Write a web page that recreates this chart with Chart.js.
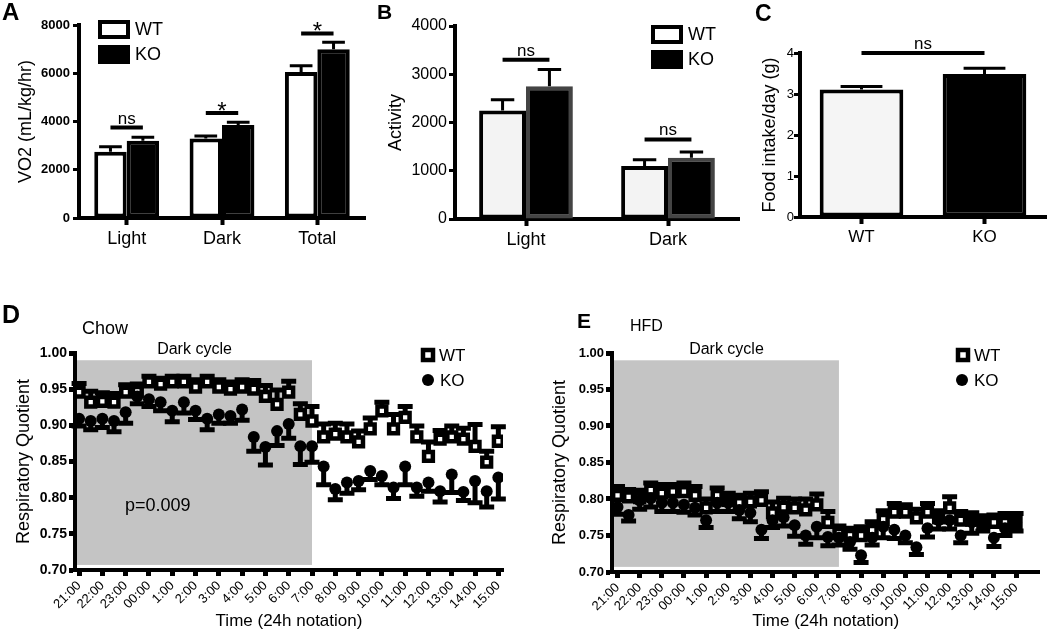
<!DOCTYPE html>
<html>
<head>
<meta charset="utf-8">
<script src="https://cdn.jsdelivr.net/npm/chart.js@4.4.0/dist/chart.umd.min.js"></script>
<style>
  body { margin: 0; width: 1050px; height: 636px; background: #fff; position: relative; overflow: hidden;
         font-family: "Liberation Sans", Arial, Helvetica, sans-serif; }
  .panel { position: absolute; }
  .lbl { position: absolute; color: #000; white-space: nowrap; line-height: 1; }
  .letter { font-weight: bold; }
</style>
</head>
<body>
<div class="panel" style="left:0;top:0;width:370px;height:260px"><canvas id="chartA"></canvas></div>
<div class="panel" style="left:370px;top:0;width:380px;height:260px"><canvas id="chartB"></canvas></div>
<div class="panel" style="left:750px;top:0;width:300px;height:260px"><canvas id="chartC"></canvas></div>
<div class="panel" style="left:0;top:300px;width:520px;height:336px"><canvas id="chartD"></canvas></div>
<div class="panel" style="left:530px;top:300px;width:520px;height:336px"><canvas id="chartE"></canvas></div>

<div class="lbl letter" style="left:2px;top:0;font-size:24px">A</div>
<div class="lbl letter" style="left:377px;top:1px;font-size:21px">B</div>
<div class="lbl letter" style="left:755px;top:2px;font-size:23px">C</div>
<div class="lbl letter" style="left:2px;top:302px;font-size:25px">D</div>
<div class="lbl letter" style="left:577px;top:310px;font-size:21px">E</div>
<div class="lbl" style="left:82px;top:319px;font-size:18px">Chow</div>
<div class="lbl" style="left:630px;top:318px;font-size:16px">HFD</div>
<div class="lbl" style="left:125px;top:496px;font-size:18px">p=0.009</div>

<script>
// ---- A: VO2 ----
const vo2Groups = ['Light', 'Dark', 'Total'];
const vo2WT = [2750, 3300, 6050];
const vo2KO = [3200, 3850, 7000];
const vo2WTErr = [200, 100, 260];
const vo2KOErr = [150, 120, 280];
const vo2SigLevel = [3750, 4350, 7650];
const vo2SigText = ['ns', '*', '*'];

// ---- B: activity ----
const actGroups = ['Light', 'Dark'];
const actWT = [2250, 1100];
const actKO = [2750, 1270];
const actWTErr = [220, 130];
const actKOErr = [350, 120];
const actSigLevel = [3300, 1650];
const actSigText = ['ns', 'ns'];

// ---- C: food intake ----
const foodGroups = ['WT', 'KO'];
const foodIntake = [3.11, 3.49];
const foodErr = [0.07, 0.14];
const foodSigLevel = 4.0;

// ---- D / E: respiratory quotient, every 30 min ----
const timeLabels = ['21:00','21:30','22:00','22:30','23:00','23:30','00:00','00:30','1:00','1:30',
  '2:00','2:30','3:00','3:30','4:00','4:30','5:00','5:30','6:00','6:30','7:00','7:30','8:00','8:30',
  '9:00','9:30','10:00','10:30','11:00','11:30','12:00','12:30','13:00','13:30','14:00','14:30','15:00'];

const wtChow = [0.946,0.932,0.933,0.932,0.946,0.947,0.960,0.957,0.960,0.960,0.953,0.960,0.953,0.950,0.953,0.950,0.940,0.929,0.946,0.915,
  0.906,0.884,0.888,0.884,0.877,0.895,0.920,0.895,0.911,0.884,0.857,0.881,0.884,0.881,0.871,0.849,0.878];
const koChow = [0.909,0.906,0.909,0.906,0.918,0.940,0.936,0.932,0.920,0.932,0.920,0.909,0.915,0.913,0.922,0.884,0.870,0.892,0.902,0.871,
  0.871,0.843,0.812,0.821,0.823,0.837,0.830,0.814,0.843,0.814,0.821,0.809,0.832,0.808,0.823,0.809,0.828];
const wtChowErr = [0.012,0.015,0.012,0.012,0.010,0.010,0.008,0.008,0.008,0.008,0.010,0.008,0.010,0.010,0.010,0.012,0.015,0.020,0.015,0.015,
  0.020,0.018,0.015,0.018,0.015,0.015,0.012,0.020,0.015,0.015,0.020,0.012,0.015,0.015,0.030,0.015,0.020];
const koChowErr = [0.010,0.012,0.012,0.015,0.015,0.010,0.010,0.012,0.015,0.015,0.012,0.015,0.012,0.010,0.015,0.020,0.025,0.020,0.020,0.025,
  0.022,0.025,0.015,0.015,0.012,0.012,0.012,0.015,0.025,0.012,0.012,0.015,0.025,0.012,0.030,0.022,0.030];

const wtHfd = [0.805,0.803,0.802,0.812,0.808,0.810,0.810,0.805,0.788,0.805,0.798,0.795,0.796,0.798,0.781,0.789,0.788,0.785,0.792,0.768,
  0.753,0.750,0.750,0.757,0.772,0.782,0.782,0.774,0.782,0.774,0.788,0.771,0.771,0.767,0.768,0.768,0.768];
const koHfd = [0.789,0.778,0.798,0.801,0.795,0.795,0.792,0.788,0.771,0.795,0.795,0.785,0.781,0.758,0.771,0.775,0.764,0.750,0.762,0.748,
  0.747,0.741,0.723,0.747,0.762,0.758,0.750,0.734,0.760,0.771,0.771,0.750,0.768,0.768,0.747,0.760,0.768];
const wtHfdErr = [0.012,0.010,0.010,0.010,0.012,0.010,0.012,0.012,0.012,0.010,0.010,0.010,0.012,0.012,0.015,0.012,0.012,0.015,0.015,0.015,
  0.010,0.010,0.012,0.012,0.012,0.012,0.010,0.012,0.012,0.010,0.015,0.012,0.010,0.010,0.010,0.012,0.012];
const koHfdErr = [0.010,0.008,0.012,0.012,0.012,0.012,0.010,0.010,0.010,0.012,0.012,0.012,0.012,0.012,0.010,0.012,0.015,0.012,0.015,0.012,
  0.010,0.010,0.010,0.010,0.015,0.012,0.010,0.010,0.012,0.012,0.012,0.010,0.015,0.012,0.012,0.010,0.012];

const darkStart = '21:00', darkEnd = '7:00';

const blk = '#000';
const fam = '"Liberation Sans", Arial, Helvetica, sans-serif';
Chart.defaults.font.family = fam;
Chart.defaults.color = blk;
Chart.defaults.animation = false;
Chart.defaults.events = [];
Chart.defaults.plugins.legend.display = false;
Chart.defaults.plugins.tooltip.enabled = false;

const setW = w => s => { s.width = w; };
const setH = h => s => { s.height = h; };

// error bars on top of bars
function barErrors(errs, capRatio) {
  return {
    id: 'barErr',
    afterDatasetsDraw(chart) {
      const ctx = chart.ctx, y = chart.scales.y;
      ctx.save();
      ctx.strokeStyle = blk;
      ctx.lineWidth = 3;
      errs.forEach((e, ds) => {
        const vals = chart.data.datasets[ds].data;
        chart.getDatasetMeta(ds).data.forEach((bar, i) => {
          const y0 = y.getPixelForValue(vals[i]);
          const y1 = y.getPixelForValue(vals[i] + e[i]);
          const half = bar.width * capRatio / 2;
          ctx.beginPath();
          ctx.moveTo(bar.x, y0); ctx.lineTo(bar.x, y1);
          ctx.moveTo(bar.x - half, y1); ctx.lineTo(bar.x + half, y1);
          ctx.stroke();
        });
      });
      ctx.restore();
    }
  };
}

// significance lines, from one bar centre to another
function sigBars(items) {
  return {
    id: 'sig',
    afterDatasetsDraw(chart) {
      const ctx = chart.ctx, y = chart.scales.y;
      ctx.save();
      items.forEach(it => {
        const a = chart.getDatasetMeta(it.a[0]).data[it.a[1]];
        const b = chart.getDatasetMeta(it.b[0]).data[it.b[1]];
        const py = y.getPixelForValue(it.level);
        ctx.strokeStyle = blk; ctx.lineWidth = 4;
        ctx.beginPath(); ctx.moveTo(a.x, py); ctx.lineTo(b.x, py); ctx.stroke();
        ctx.fillStyle = blk; ctx.textAlign = 'center'; ctx.textBaseline = 'alphabetic';
        const mx = (a.x + b.x) / 2;
        if (it.text === '*') {
          ctx.font = '24px ' + fam;
          ctx.fillText('*', mx, py + 6);
        } else {
          ctx.font = '17px ' + fam;
          ctx.fillText(it.text, mx, py - 4);
        }
      });
      ctx.restore();
    }
  };
}

// box legend inside the plot
function boxLegend(items) {
  return {
    id: 'boxLegend',
    afterDraw(chart) {
      const ctx = chart.ctx;
      ctx.save();
      items.forEach(it => {
        ctx.fillStyle = it.fill;
        ctx.fillRect(it.x, it.y, 28, 15);
        ctx.strokeStyle = blk; ctx.lineWidth = 4;
        ctx.strokeRect(it.x, it.y, 28, 15);
        ctx.fillStyle = blk; ctx.font = '18px ' + fam;
        ctx.textAlign = 'left'; ctx.textBaseline = 'middle';
        ctx.fillText(it.text, it.x + 35, it.y + 8);
      });
      ctx.restore();
    }
  };
}

function barChart(id, c) {
  return new Chart(document.getElementById(id), {
    type: 'bar',
    data: { labels: c.labels, datasets: c.datasets },
    options: {
      responsive: true,
      maintainAspectRatio: false,
      layout: { padding: c.pad },
      scales: {
        x: {
          grid: { offset: false, drawOnChartArea: false, tickLength: 7, tickWidth: 4, tickColor: blk },
          border: { width: 4, color: blk },
          ticks: { font: { size: c.xFont }, padding: 3 },
          afterFit: setH(c.xh)
        },
        y: {
          min: 0,
          max: c.max,
          grid: { drawOnChartArea: false, tickLength: 6, tickWidth: 3, tickColor: blk },
          border: { width: 4, color: blk },
          ticks: { stepSize: c.step, font: c.tickFont, padding: c.tickPad, callback: v => v },
          title: { display: true, text: c.title, font: { size: 18 }, padding: 0 },
          afterFit: setW(c.yw)
        }
      }
    },
    plugins: c.plugins
  });
}

// A
barChart('chartA', {
  labels: vo2Groups,
  datasets: [
    { label: 'WT', data: vo2WT, backgroundColor: '#fff', borderColor: blk, borderWidth: 4, borderSkipped: false, barPercentage: 1, categoryPercentage: 0.68 },
    { label: 'KO', data: vo2KO, backgroundColor: blk, borderColor: blk, borderWidth: 4, borderSkipped: false, barPercentage: 1, categoryPercentage: 0.68 }
  ],
  pad: { left: 15, top: 25, right: 5, bottom: 0 },
  xh: 42, yw: 64, max: 8000, step: 2000, xFont: 18,
  tickFont: { size: 13, weight: 'bold' }, tickPad: 3,
  title: 'VO2 (mL/kg/hr)',
  plugins: [
    barErrors([vo2WTErr, vo2KOErr], 0.7),
    sigBars(vo2Groups.map((g, i) => ({ a: [0, i], b: [1, i], level: vo2SigLevel[i], text: vo2SigText[i] }))),
    boxLegend([{ x: 100, y: 22, fill: '#fff', text: 'WT' }, { x: 100, y: 47, fill: blk, text: 'KO' }])
  ]
});

// B
barChart('chartB', {
  labels: actGroups,
  datasets: [
    { label: 'WT', data: actWT, backgroundColor: '#f3f3f3', borderColor: blk, borderWidth: 4, borderSkipped: false, barPercentage: 1, categoryPercentage: 0.66 },
    { label: 'KO', data: actKO, backgroundColor: blk, borderColor: '#444', borderWidth: 4, borderSkipped: false, barPercentage: 1, categoryPercentage: 0.66 }
  ],
  pad: { left: 15, top: 26, right: 11, bottom: 0 },
  xh: 41, yw: 70, max: 4000, step: 1000, xFont: 18,
  tickFont: { size: 16 }, tickPad: 2,
  title: 'Activity',
  plugins: [
    barErrors([actWTErr, actKOErr], 0.5),
    sigBars(actGroups.map((g, i) => ({ a: [0, i], b: [1, i], level: actSigLevel[i], text: actSigText[i] }))),
    boxLegend([{ x: 283, y: 27, fill: '#fff', text: 'WT' }, { x: 283, y: 52, fill: blk, text: 'KO' }])
  ]
});

// C
barChart('chartC', {
  labels: foodGroups,
  datasets: [
    { label: 'Food', data: foodIntake, backgroundColor: ['#f5f5f5', blk], borderColor: blk, borderWidth: 4, borderSkipped: false, barPercentage: 0.68, categoryPercentage: 1 }
  ],
  pad: { left: 9, top: 53, right: 4, bottom: 0 },
  xh: 43, yw: 41, max: 4, step: 1, xFont: 17,
  tickFont: { size: 13 }, tickPad: 0,
  title: 'Food intake/day (g)',
  plugins: [
    barErrors([foodErr], 0.5),
    sigBars([{ a: [0, 0], b: [0, 1], level: foodSigLevel, text: 'ns' }])
  ]
});

// shaded dark cycle + error bars for the RQ panels
function rqDecor(sets) {
  return {
    id: 'rqDecor',
    beforeDatasetsDraw(chart) {
      const ctx = chart.ctx, x = chart.scales.x, y = chart.scales.y, area = chart.chartArea;
      ctx.save();
      const x0 = Math.max(area.left + 2, x.getPixelForValue(timeLabels.indexOf(darkStart)) - 4);
      const x1 = x.getPixelForValue(timeLabels.indexOf(darkEnd));
      const yTop = y.getPixelForValue(0.99), yBot = y.getPixelForValue(0.707);
      ctx.fillStyle = '#c4c4c4';
      ctx.fillRect(x0, yTop, x1 - x0, yBot - yTop);
      ctx.fillStyle = blk; ctx.font = '16px ' + fam;
      ctx.textAlign = 'center'; ctx.textBaseline = 'middle';
      ctx.fillText('Dark cycle', (x0 + x1) / 2, yTop - 11);

      ctx.strokeStyle = blk; ctx.lineWidth = 5;
      sets.forEach(s => {
        s.vals.forEach((v, i) => {
          const px = x.getPixelForValue(i);
          const p0 = y.getPixelForValue(v);
          const p1 = y.getPixelForValue(v + s.dir * s.err[i]);
          ctx.beginPath();
          ctx.moveTo(px, p0); ctx.lineTo(px, p1);
          ctx.moveTo(px - 7.5, p1); ctx.lineTo(px + 7.5, p1);
          ctx.stroke();
        });
      });
      ctx.restore();
    }
  };
}

function markerLegend(wx, wy, kx, ky) {
  return {
    id: 'markerLegend',
    afterDraw(chart) {
      const ctx = chart.ctx;
      ctx.save();
      ctx.fillStyle = '#fff'; ctx.strokeStyle = blk; ctx.lineWidth = 4.5;
      ctx.fillRect(wx - 5, wy - 5, 10, 10);
      ctx.strokeRect(wx - 5, wy - 5, 10, 10);
      ctx.fillStyle = blk;
      ctx.beginPath(); ctx.arc(kx, ky, 6, 0, Math.PI * 2); ctx.fill();
      ctx.font = '17px ' + fam; ctx.textAlign = 'left'; ctx.textBaseline = 'middle';
      ctx.fillText('WT', wx + 11, wy + 1);
      ctx.fillText('KO', kx + 12, ky + 1);
      ctx.restore();
    }
  };
}

const hourTicks = timeLabels.map((t, i) => i).filter(i => timeLabels[i].endsWith(':00'));

function rqChart(id, c) {
  const pts = arr => arr.map((v, i) => ({ x: i, y: v }));
  return new Chart(document.getElementById(id), {
    type: 'scatter',
    data: {
      datasets: [
        { label: 'KO', data: pts(c.ko), pointStyle: 'circle', pointRadius: 6,
          pointBackgroundColor: blk, pointBorderColor: blk, pointBorderWidth: 0 },
        { label: 'WT', data: pts(c.wt), pointStyle: 'rect', pointRadius: 6.2,
          pointBackgroundColor: '#fff', pointBorderColor: blk, pointBorderWidth: 4.5 }
      ]
    },
    options: {
      responsive: true,
      maintainAspectRatio: false,
      layout: { padding: c.pad },
      scales: {
        x: {
          type: 'linear',
          min: c.xmin,
          max: c.xmax,
          afterBuildTicks: s => { s.ticks = hourTicks.map(v => ({ value: v })); },
          ticks: { autoSkip: false, minRotation: 45, maxRotation: 45, font: { size: 13 }, padding: 2,
                   callback: v => timeLabels[v] },
          grid: { drawOnChartArea: false, tickLength: 6, tickWidth: 5, tickColor: blk },
          border: { width: 4, color: blk },
          title: { display: true, text: 'Time (24h notation)', font: { size: 17 }, padding: 0 },
          afterFit: setH(c.xh)
        },
        y: {
          min: 0.7,
          max: 1.0,
          ticks: { stepSize: 0.05, font: { size: c.yFont, weight: 'bold' }, padding: 2, callback: v => v.toFixed(2) },
          grid: { drawOnChartArea: false, tickLength: 6, tickWidth: 5, tickColor: blk },
          border: { width: 4, color: blk },
          title: { display: true, text: 'Respiratory Quotient', font: { size: 18 }, padding: 0 },
          afterFit: setW(c.yw)
        }
      }
    },
    plugins: [
      rqDecor([{ vals: c.wt, err: c.wtErr, dir: 1 }, { vals: c.ko, err: c.koErr, dir: -1 }]),
      markerLegend(c.leg[0], c.leg[1], c.leg[2], c.leg[3])
    ]
  });
}

rqChart('chartD', {
  wt: wtChow, ko: koChow, wtErr: wtChowErr, koErr: koChowErr,
  pad: { left: 13, top: 53, right: 17, bottom: 4 },
  xh: 62, yw: 62, xmin: -0.35, xmax: 36.4, yFont: 14,
  leg: [428, 55, 428, 80]
});

rqChart('chartE', {
  wt: wtHfd, ko: koHfd, wtErr: wtHfdErr, koErr: koHfdErr,
  pad: { left: 19, top: 53, right: 4, bottom: 4 },
  xh: 60, yw: 63, xmin: -0.5, xmax: 38.1, yFont: 13,
  leg: [433, 55, 432, 80]
});
</script>
</body>
</html>
